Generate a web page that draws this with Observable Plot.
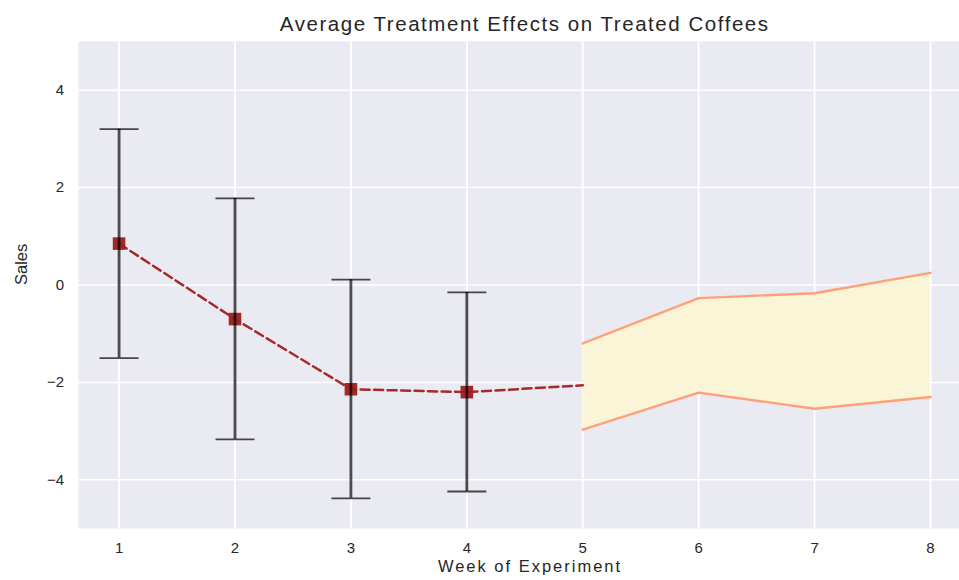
<!DOCTYPE html>
<html>
<head>
<meta charset="utf-8">
<script src="https://cdn.jsdelivr.net/npm/d3@7"></script>
<script src="https://cdn.jsdelivr.net/npm/@observablehq/plot@0.6"></script>
<style>
  html, body { margin: 0; padding: 0; background: #ffffff; overflow: hidden; }
  #chart svg { font-family: "Liberation Sans", Arial, sans-serif; }
</style>
</head>
<body>
<div id="chart"></div>
<script>
// ---- text ----
const title = "Average Treatment Effects on Treated Coffees";
const xLabel = "Week of Experiment";
const yLabel = "Sales";

// ---- tick values ----
const xTicks = [1, 2, 3, 4, 5, 6, 7, 8];
const yTicks = [-4, -2, 0, 2, 4];

// ---- observed weeks: estimate and interval ----
const weeks = [1, 2, 3, 4];
const effects = [0.85, -0.70, -2.14, -2.20];
const ciLow = [-1.50, -3.17, -4.38, -4.24];
const ciHigh = [3.20, 1.78, 0.11, -0.15];

// ---- dashed trend line (continues to week 5) ----
const trendWeeks = [1, 2, 3, 4, 5];
const trendValues = [0.85, -0.70, -2.14, -2.20, -2.06];

// ---- projected band ----
const bandWeeks = [5, 6, 7, 8];
const bandLow = [-2.97, -2.21, -2.54, -2.30];
const bandHigh = [-1.20, -0.27, -0.17, 0.25];

// tables built from the arrays
const obs = weeks.map((w, i) => ({week: w, effect: effects[i], lo: ciLow[i], hi: ciHigh[i]}));
const trend = trendWeeks.map((w, i) => ({week: w, value: trendValues[i]}));
const band = bandWeeks.map((w, i) => ({week: w, lo: bandLow[i], hi: bandHigh[i]}));

// horizontal cap symbol for error bars
const capSymbol = {
  draw(context, size) {
    const w = Math.sqrt(size);
    context.moveTo(-w / 2, 0);
    context.lineTo(w / 2, 0);
  }
};

const textColor = "#262626";

const chart = Plot.plot({
  width: 959,
  height: 580,
  marginLeft: 78,
  marginRight: 0,
  marginTop: 41,
  marginBottom: 52,
  style: {background: "#ffffff", fontFamily: "'Liberation Sans', Arial, sans-serif", fontSize: "15px", overflow: "hidden"},
  x: {domain: [0.65, 8.25]},
  y: {domain: [-5, 5]},
  marks: [
    Plot.frame({fill: "#EAEAF2", stroke: "none"}),
    Plot.gridX(xTicks, {stroke: "#ffffff", strokeOpacity: 1, strokeWidth: 1.8}),
    Plot.gridY(yTicks, {stroke: "#ffffff", strokeOpacity: 1, strokeWidth: 1.5}),
    Plot.areaY(band, {x: "week", y1: "lo", y2: "hi", fill: "#FAF5D6", fillOpacity: 1}),
    Plot.line(band, {x: "week", y: "hi", stroke: "#FFA07A", strokeWidth: 2.4}),
    Plot.line(band, {x: "week", y: "lo", stroke: "#FFA07A", strokeWidth: 2.4}),
    Plot.line(trend, {x: "week", y: "value", stroke: "#A52A2A", strokeWidth: 2.5, strokeDasharray: "9,4.5"}),
    Plot.dot(obs, {x: "week", y: "effect", symbol: "square", r: 7.1, fill: "#9E1F1F", fillOpacity: 0.95, stroke: "none"}),
    Plot.ruleX(obs, {x: "week", y1: "lo", y2: "hi", stroke: "#000000", strokeOpacity: 0.7, strokeWidth: 2.8}),
    Plot.dot(obs, {x: "week", y: "hi", symbol: capSymbol, r: 22, fill: "none", stroke: "#000000", strokeOpacity: 0.7, strokeWidth: 1.8}),
    Plot.dot(obs, {x: "week", y: "lo", symbol: capSymbol, r: 22, fill: "none", stroke: "#000000", strokeOpacity: 0.7, strokeWidth: 1.8}),
    Plot.axisX(xTicks, {tickSize: 0, tickPadding: 13.5, fontSize: 15, fill: textColor, label: null, tickFormat: d => String(d)}),
    Plot.axisY(yTicks, {tickSize: 0, tickPadding: 14.5, fontSize: 15, fill: textColor, label: null}),
    Plot.text([title], {frameAnchor: "top", lineAnchor: "middle", dy: -16.8, dx: 5.7, fontSize: 20.5, fill: textColor}),
    Plot.text([xLabel], {frameAnchor: "bottom", lineAnchor: "middle", dy: 38.5, dx: 11, fontSize: 16.5, fill: textColor}),
    Plot.text([yLabel], {frameAnchor: "left", lineAnchor: "middle", rotate: -90, dx: -57.2, fontSize: 16.5, fill: textColor})
  ]
});

// widen the horizontal labels to the reference's spacing
const spacing = new Map([[title, "1.55px"], [xLabel, "2px"]]);
chart.querySelectorAll("text").forEach(t => {
  if (spacing.has(t.textContent)) t.style.letterSpacing = spacing.get(t.textContent);
});

document.getElementById("chart").appendChild(chart);
</script>
</body>
</html>
